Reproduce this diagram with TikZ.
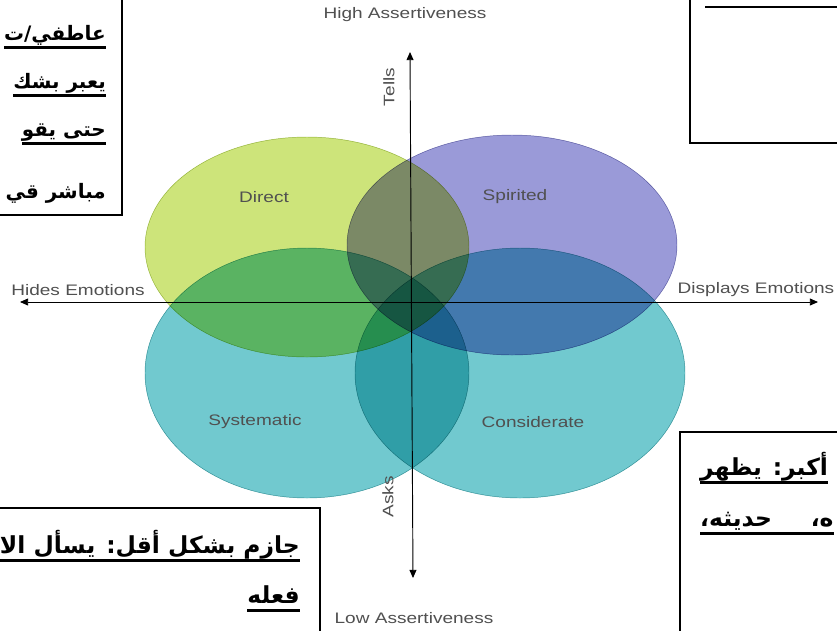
\documentclass[tikz,border=0pt]{standalone}
\usepackage{fontspec}
\setmainfont{Liberation Sans}
\newfontfamily\arabicfont[Script=Arabic]{DejaVu Sans}
\newfontfamily\chartfont[FakeStretch=1.25]{Liberation Sans}
\TeXXeTstate=1
\usetikzlibrary{arrows.meta}

\definecolor{limefill}{RGB}{200,226,108}
\definecolor{purplefill}{RGB}{144,144,212}
\definecolor{tealfill}{RGB}{98,196,202}
\definecolor{labelgray}{RGB}{80,80,80}

% underlined right-to-left line
\newcommand\arline[1]{\setbox0\hbox{\beginR#1\endR}\leavevmode\rlap{\rule[-8pt]{\wd0}{2.5pt}}\box0}
\newcommand\arplain[1]{\hbox{\beginR#1\endR}}

\begin{document}
\begin{tikzpicture}[x=0.03cm, y=-0.03cm]
  \tikzstyle{blob} = [line width=0.4pt, fill opacity=0.9]
  \tikzstyle{chartlabel} = [font=\chartfont\fontsize{13}{15}\selectfont, text=labelgray, inner sep=0pt]
  \tikzstyle{axis} = [line width=0.8pt, {Triangle[length=7pt, width=6pt]}-{Triangle[length=7pt, width=6pt]}]
  \tikzstyle{notebox} = [draw=black, line width=1.2pt, fill=white]
  \tikzstyle{arnote} = [font=\arabicfont\bfseries\fontsize{20}{24}\selectfont, inner sep=0pt]
  \tikzstyle{arsmall} = [font=\arabicfont\bfseries\fontsize{17}{21}\selectfont, inner sep=0pt]

  \useasboundingbox (0,0) rectangle (837,630);
  \clip (0,0) rectangle (837,630);
  \fill[white] (0,0) rectangle (837,630);

  % the four styles
  \begin{scope}[blend group=multiply]
    \filldraw[blob, fill=tealfill, draw=tealfill!85!black] (307,373) ellipse [x radius=162, y radius=125];
    \filldraw[blob, fill=tealfill, draw=tealfill!85!black] (520,373) ellipse [x radius=165, y radius=125];
    \filldraw[blob, fill=limefill, draw=limefill!85!black] (307,247) ellipse [x radius=162, y radius=110];
    \filldraw[blob, fill=purplefill, draw=purplefill!85!black] (512,245) ellipse [x radius=165, y radius=110];
  \end{scope}

  \node[chartlabel] (direct) at (264,197) {Direct};
  \node[chartlabel] (spirited) at (515,197) {Spirited};
  \node[chartlabel] (systematic) at (255,422) {Systematic};
  \node[chartlabel] (considerate) at (533,422) {Considerate};

  % axes
  \coordinate (north) at (410,52);
  \coordinate (south) at (413,578);
  \coordinate (west) at (20,302);
  \coordinate (east) at (818,302);
  \draw[axis] (south) -- (north);
  \draw[axis] (west) -- (east);

  \node[chartlabel] (high) at (405,15) {High Assertiveness};
  \node[chartlabel] (low) at (414,618) {Low Assertiveness};
  \node[chartlabel] (hides) at (78,290) {Hides Emotions};
  \node[chartlabel] (displays) at (756,290) {Displays Emotions};
  \node[chartlabel, rotate=90] (tells) at (389,87) {Tells};
  \node[chartlabel, rotate=90] (asks) at (388,497) {Asks};

  % notes round the chart
  \draw[notebox] (-10,-10) rectangle (122,215);
  \node[arsmall, anchor=base east] (tl1) at (106,40) {\arline{عاطفي/ت}};
  \node[arsmall, anchor=base east] (tl2) at (106,88) {\arline{يعبر بشك}};
  \node[arsmall, anchor=base east] (tl3) at (106,136) {\arline{حتى يقو}};
  \node[arsmall, anchor=base east] (tl4) at (106,198) {\arplain{مباشر قي}};

  \draw[notebox] (690,-10) rectangle (850,143);
  \draw[line width=2.5pt] (705,7) -- (850,7);

  \draw[notebox] (680,432) rectangle (850,640);
  \node[arnote, anchor=base west] (br1) at (700,475) {\arline{أكبر: يظهر}};
  \node[arnote, anchor=base west] (br2) at (700,526) {\arline{\hbox to 4cm{ه،\hfill حديثه،}}};

  \draw[notebox] (-10,508) rectangle (320,640);
  \node[arnote, anchor=base east] (bl1) at (300,553) {\arline{جازم بشكل أقل: يسأل الا}};
  \node[arnote, anchor=base east] (bl2) at (300,603) {\arline{فعله}};
\end{tikzpicture}
\end{document}
